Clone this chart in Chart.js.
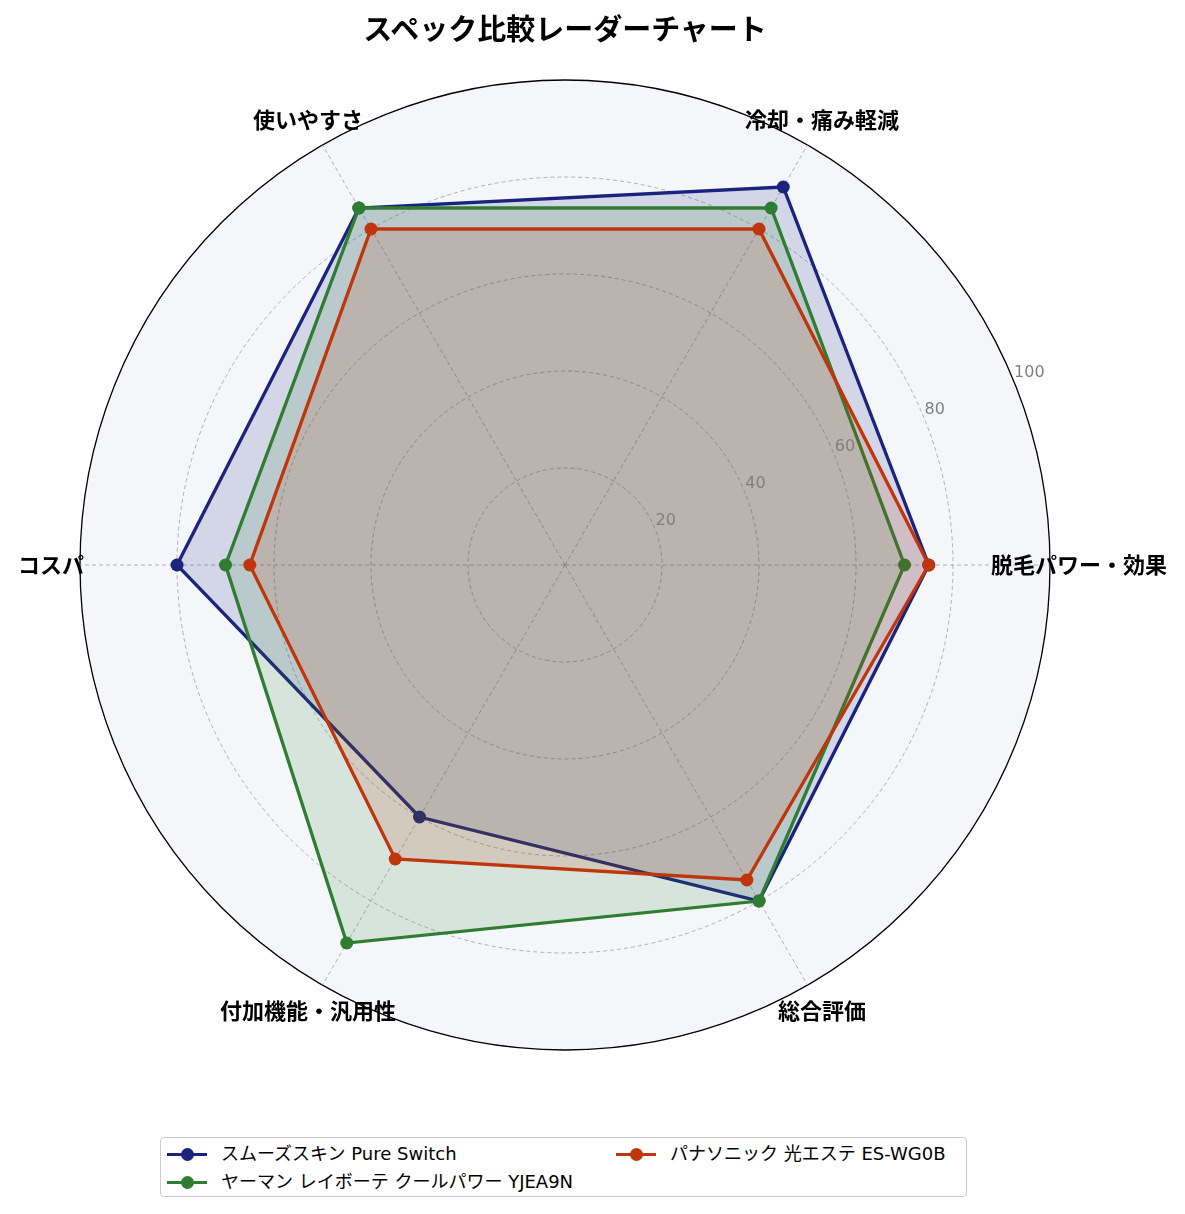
<!DOCTYPE html>
<html>
<head>
<meta charset="utf-8">
<script src="https://cdn.jsdelivr.net/npm/chart.js@4.4.1/dist/chart.umd.min.js"></script>
<style>
  html, body { margin: 0; padding: 0; background: #ffffff; }
  #wrap { position: relative; width: 1185px; height: 1214px; overflow: hidden; }
  #c { position: absolute; left: 0; top: 0; }
  #title { position: absolute; left: 565px; top: 27px; transform: translate(-50%, -50%);
    font-family: "Noto Sans CJK JP", sans-serif; font-weight: bold; font-size: 29px; color: #000; white-space: nowrap; }
  #legend { position: absolute; left: 160px; top: 1137px; width: 805px; height: 58px;
    border: 1.5px solid #cccccc; border-radius: 4px; background: #fff; box-sizing: content-box; }
  .item { position: absolute; height: 24px; font-family: "DejaVu Sans", "Noto Sans CJK JP", sans-serif; font-size: 18px; color: #000; white-space: nowrap; }
  .item .ln { position: absolute; left: 0; top: 11px; width: 40px; height: 3px; }
  .item .dot { position: absolute; left: 13.5px; top: 6px; width: 13px; height: 13px; border-radius: 50%; }
  .item .tx { position: absolute; left: 54px; top: 0; line-height: 24px; }
</style>
</head>
<body>
<div id="wrap">
  <canvas id="c" width="1185" height="1214"></canvas>
  <div id="title"></div>
  <div id="legend"></div>
</div>
<script>
const chartTitle = 'スペック比較レーダーチャート';
const categories = ['脱毛パワー・効果', '冷却・痛み軽減', '使いやすさ', 'コスパ', '付加機能・汎用性', '総合評価'];
const seriesNames = ['スムーズスキン Pure Switch', 'ヤーマン レイボーテ クールパワー YJEA9N', 'パナソニック 光エステ ES-WG0B'];
const smoothSkinValues = [75, 90, 85, 80, 60, 80];
const yamanValues = [70, 85, 85, 70, 90, 80];
const panasonicValues = [75, 80, 80, 65, 70, 75];
const tickValues = [20, 40, 60, 80, 100];
const seriesColors = ['#1a237e', '#2e7d32', '#bf360c'];
const seriesFills = ['rgba(26,35,126,0.15)', 'rgba(46,125,50,0.15)', 'rgba(191,54,12,0.15)'];

// Chart.js goes clockwise; reference goes counter-clockwise starting at the right.
const drawOrder = [0, 5, 4, 3, 2, 1];
const reorder = arr => drawOrder.map(i => arr[i]);

document.getElementById('title').textContent = chartTitle;

const allValues = [smoothSkinValues, yamanValues, panasonicValues];
const datasets = allValues.map((vals, k) => ({
  label: seriesNames[k],
  data: reorder(vals),
  borderColor: seriesColors[k],
  backgroundColor: seriesFills[k],
  pointBackgroundColor: seriesColors[k],
  pointBorderColor: seriesColors[k],
  pointBorderWidth: 0,
  pointRadius: 6.5,
  borderWidth: 3.3,
  fill: true,
  tension: 0,
  order: 3 - k
}));

const labelPlugin = {
  id: 'labelPlugin',
  afterDraw(chart) {
    const scale = chart.scales.r;
    const ctx = chart.ctx;
    ctx.save();
    // radial tick labels at 22.5 degrees
    ctx.font = '16px "DejaVu Sans", sans-serif';
    ctx.fillStyle = '#808080';
    ctx.textAlign = 'left';
    ctx.textBaseline = 'bottom';
    const a = 22.5 * Math.PI / 180;
    tickValues.forEach(v => {
      const d = scale.getDistanceFromCenterForValue(v);
      ctx.fillText(String(v), scale.xCenter + d * Math.cos(a) + 1, scale.yCenter - d * Math.sin(a) + 1);
    });
    // point labels centered outside
    ctx.font = 'bold 22px "Noto Sans CJK JP", sans-serif';
    ctx.fillStyle = '#000';
    ctx.textAlign = 'center';
    ctx.textBaseline = 'middle';
    const outer = scale.getDistanceFromCenterForValue(100) * 1.06;
    const labs = reorder(categories);
    labs.forEach((lab, i) => {
      const p = scale.getPointPosition(i, outer);
      ctx.fillText(lab, p.x, p.y);
    });
    ctx.restore();
  }
};

new Chart(document.getElementById('c'), {
  type: 'radar',
  data: { labels: reorder(categories), datasets },
  options: {
    responsive: false,
    animation: false,
    devicePixelRatio: 1,
    layout: { padding: { left: 80, right: 135, top: 80, bottom: 164 } },
    plugins: { legend: { display: false }, title: { display: false }, tooltip: { enabled: false } },
    scales: {
      r: {
        min: 0,
        max: 100,
        startAngle: 90,
        backgroundColor: '#f4f6fa',
        ticks: { stepSize: 20, display: false },
        pointLabels: { display: false },
        grid: {
          circular: true,
          color: ctx => (ctx.tick && ctx.tick.value === 100) ? '#000000' : '#a0a0a0',
          lineWidth: ctx => (ctx.tick && ctx.tick.value === 100) ? 1.3 : 0.8
        },
        border: {
          dash: ctx => (ctx.tick && ctx.tick.value === 100) ? [] : [4, 3]
        },
        angleLines: { display: true, color: '#a0a0a0', lineWidth: 0.8, borderDash: [4, 3] }
      }
    }
  },
  plugins: [labelPlugin]
});

// HTML legend (two columns, filled column-wise like the reference)
const legendPos = [[6, 4], [6, 32], [455, 4]];
const legend = document.getElementById('legend');
seriesNames.forEach((name, k) => {
  const it = document.createElement('div');
  it.className = 'item';
  it.style.left = legendPos[k][0] + 'px';
  it.style.top = legendPos[k][1] + 'px';
  it.innerHTML = '<div class="ln"></div><div class="dot"></div><div class="tx"></div>';
  it.querySelector('.ln').style.background = seriesColors[k];
  it.querySelector('.dot').style.background = seriesColors[k];
  it.querySelector('.tx').textContent = name;
  legend.appendChild(it);
});
</script>
</body>
</html>
